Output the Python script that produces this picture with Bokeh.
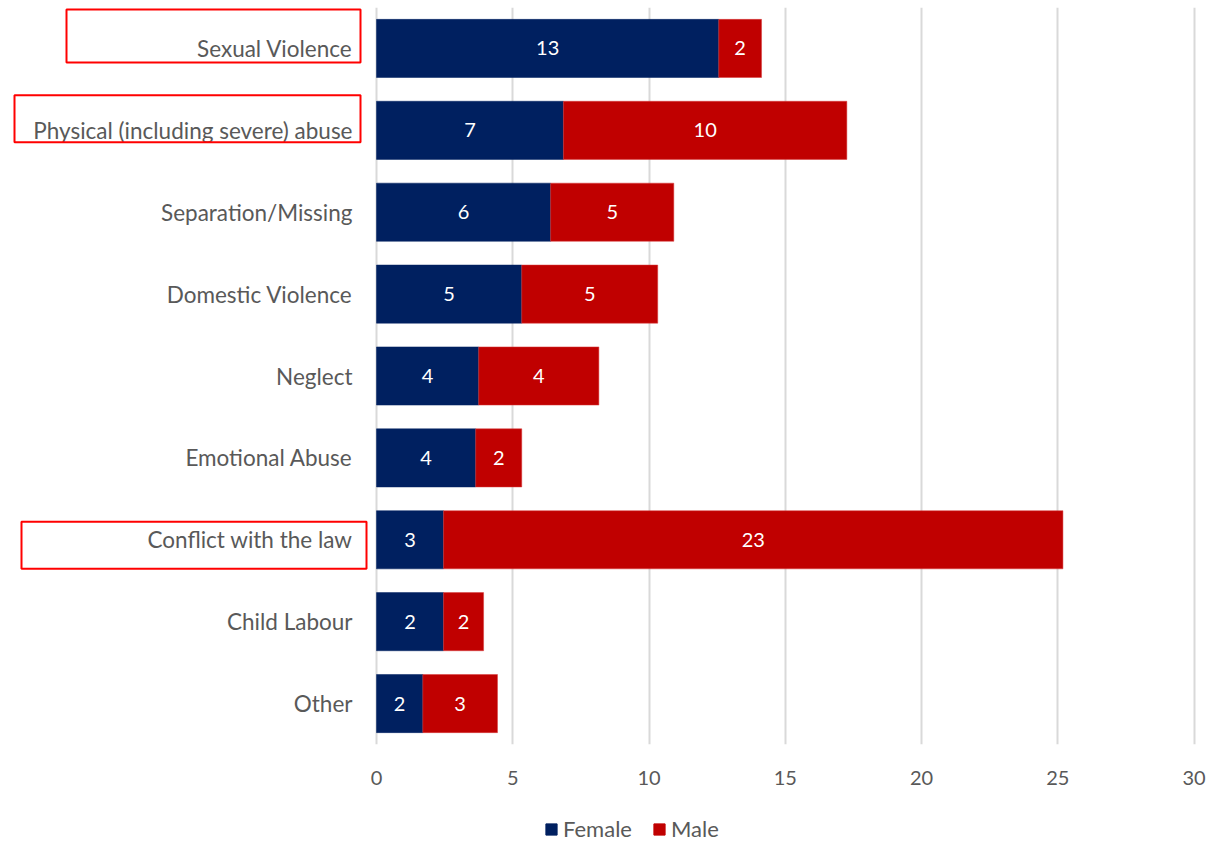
from bokeh.plotting import figure
from bokeh.layouts import column
from bokeh.models import (ColumnDataSource, FactorRange, FixedTicker, Legend, LegendItem,
                          BoxAnnotation, Range1d)
from bokeh.core.properties import value
from bokeh.embed import file_html
from bokeh.resources import INLINE

categories = ["Sexual Violence", "Physical (including severe) abuse", "Separation/Missing",
              "Domestic Violence", "Neglect", "Emotional Abuse", "Conflict with the law",
              "Child Labour", "Other"]
female = [12.56, 6.86, 6.39, 5.33, 3.75, 3.64, 2.46, 2.46, 1.70]
male = [1.57, 10.40, 4.52, 4.99, 4.41, 1.69, 22.73, 1.47, 2.74]
female_labels = ["13", "7", "6", "5", "4", "4", "3", "2", "2"]
male_labels = ["2", "10", "5", "5", "4", "2", "23", "2", "3"]
series_names = ["Female", "Male"]
x_ticks = [0, 5, 10, 15, 20, 25, 30]
highlighted = ["Sexual Violence", "Physical (including severe) abuse", "Conflict with the law"]

FONT = "Lato"
GREY = "#595959"
NAVY = "#002060"
RED = "#C00000"

cats_rev = categories[::-1]
n = len(categories)
W = 1214
MAIN_H, LEG_H = 790, 52
top_b, frame_bottom = 7, 744
px_per_unit = 27.25
zero_px = 376
x0 = -zero_px / px_per_unit
x1 = x0 + W / px_per_unit


def px2x(px):
    return (px - zero_px) / px_per_unit


p = figure(width=W, height=MAIN_H, output_backend="svg", toolbar_location=None,
           y_range=FactorRange(factors=cats_rev, range_padding=0),
           x_range=Range1d(x0, x1), min_border_left=0, min_border_right=0,
           min_border_top=top_b, min_border_bottom=MAIN_H - frame_bottom)
p.outline_line_color = None
p.background_fill_color = "white"
p.border_fill_color = "white"

src = ColumnDataSource(dict(
    cat=categories,
    fend=female, tend=[f + m for f, m in zip(female, male)],
    zero=[0] * n,
    fmid=[f / 2 for f in female],
    mmid=[f + m / 2 for f, m in zip(female, male)],
    flab=female_labels, mlab=male_labels,
    labx=[px2x(352)] * n,
))

BAR_H = 0.71
p.hbar(y="cat", left="zero", right="fend", height=BAR_H, source=src,
       fill_color=NAVY, line_color=NAVY, line_width=0.5)
p.hbar(y="cat", left="fend", right="tend", height=BAR_H, source=src,
       fill_color=RED, line_color="#d83a3a", line_width=0.5)

p.text(x="fmid", y="cat", text="flab", source=src, text_color="white",
       text_font=value(FONT), text_font_size="20px", text_align="center",
       text_baseline="middle")
p.text(x="mmid", y="cat", text="mlab", source=src, text_color="white",
       text_font=value(FONT), text_font_size="20px", text_align="center",
       text_baseline="middle")

# category labels
p.text(x="labx", y="cat", text="cat", source=src, text_color=GREY,
       text_font=value(FONT), text_font_size="22.5px", text_align="right",
       text_baseline="middle")

p.yaxis.visible = False

p.xaxis.ticker = FixedTicker(ticks=x_ticks)
p.xaxis.axis_line_color = None
p.xaxis.major_tick_line_color = None
p.xaxis.minor_tick_line_color = None
p.xaxis.major_label_text_font = FONT
p.xaxis.major_label_text_font_size = "20px"
p.xaxis.major_label_text_color = GREY
p.xaxis.major_label_standoff = 20

p.xgrid.ticker = FixedTicker(ticks=x_ticks)
p.xgrid.grid_line_color = "#d9d9d9"
p.xgrid.grid_line_width = 2
p.ygrid.grid_line_color = None

# red highlight boxes around selected labels (pixel extents -> data coords)
row_px = (frame_bottom - top_b) / n
boxes = {"Sexual Violence": (66, 360, -39, 14),
         "Physical (including severe) abuse": (14, 360, -35, 12),
         "Conflict with the law": (21, 366, -18, 29)}
for name in highlighted:
    l, r, t, b = boxes[name]
    yc = n - categories.index(name) - 0.5
    p.add_layout(BoxAnnotation(left=px2x(l), right=px2x(r),
                               top=yc - t / row_px, bottom=yc - b / row_px,
                               fill_alpha=0, fill_color=None,
                               line_color="#ff0000", line_width=2, line_alpha=1))

# legend strip (swatch renderers sit outside the visible range)
pl = figure(width=W, height=LEG_H, output_backend="svg", toolbar_location=None,
            x_range=Range1d(0, 1), y_range=Range1d(0, 1),
            min_border_left=0, min_border_right=0, min_border_top=0, min_border_bottom=0)
pl.axis.visible = False
pl.grid.visible = False
pl.outline_line_color = None
hidden = ColumnDataSource(dict(y=[5], left=[5], right=[6]))
lf = pl.hbar(y="y", left="left", right="right", height=1, source=hidden,
             fill_color=NAVY, line_color=NAVY)
lm = pl.hbar(y="y", left="left", right="right", height=1, source=hidden,
             fill_color=RED, line_color=RED)
legend = Legend(items=[LegendItem(label=series_names[0], renderers=[lf]),
                       LegendItem(label=series_names[1], renderers=[lm])],
                orientation="horizontal", location=(544, 0),
                label_text_font=FONT, label_text_font_size="22px",
                label_text_color=GREY, glyph_width=14, glyph_height=14,
                label_standoff=5, spacing=20, padding=0, margin=0,
                border_line_color=None, background_fill_alpha=0)
pl.add_layout(legend, "center")

layout = column(p, pl, spacing=0)
open("out.html", "w").write(file_html(layout, INLINE))
